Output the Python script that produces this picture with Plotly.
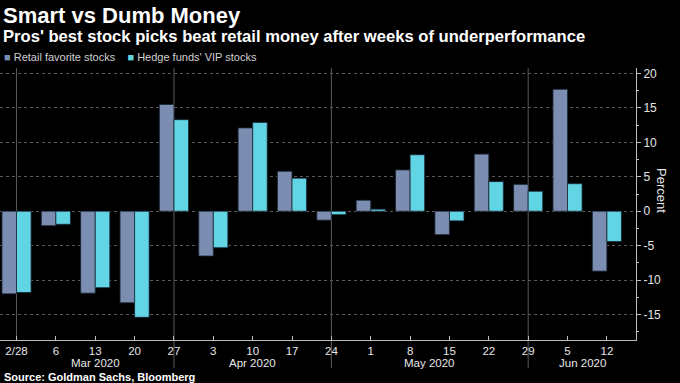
import plotly.graph_objects as go
import pandas as pd

# ---- data ----
weeks = ["2020-02-28", "2020-03-06", "2020-03-13", "2020-03-20", "2020-03-27",
         "2020-04-03", "2020-04-10", "2020-04-17", "2020-04-24", "2020-05-01",
         "2020-05-08", "2020-05-15", "2020-05-22", "2020-05-29", "2020-06-05",
         "2020-06-12"]
tick_labels = ["2/28", "6", "13", "20", "27", "3", "10", "17", "24", "1",
               "8", "15", "22", "29", "5", "12"]
retail = [-12.0, -2.1, -11.9, -13.3, 15.5, -6.5, 12.1, 5.8, -1.3, 1.6,
          6.0, -3.4, 8.3, 3.9, 17.7, -8.7]
hedge = [-11.8, -1.9, -11.1, -15.4, 13.3, -5.3, 12.9, 4.8, -0.5, 0.3,
         8.2, -1.4, 4.3, 2.9, 4.0, -4.4]
y_tick_vals = [-15, -10, -5, 0, 5, 10, 15, 20]
y_tick_labels = ["-15", "-10", "-5", "0", "5", "10", "15", "20"]
series_names = ["Retail favorite stocks", "Hedge funds' VIP stocks"]

title = "Smart vs Dumb Money"
subtitle = "Pros' best stock picks beat retail money after weeks of underperformance"
source = "Source: Goldman Sachs, Bloomberg"

# ---- styling ----
W, H = 680, 383
ML, MR, MT, MB = 0, 44, 68, 43
C_RETAIL = "#7b8db0"
C_HEDGE = "#62d5e5"
FONT = "Liberation Sans, Arial, sans-serif"
AXIS_C = "#bdbdbd"
GRID_C = "#5a5a5a"
XR = [-0.42, 15.74]
YR = [-18.7, 20.8]

dates = pd.to_datetime(pd.Series(weeks))
x = list(range(len(weeks)))

fig = go.Figure()
fig.add_bar(x=x, y=retail, name=series_names[0], marker_color=C_RETAIL,
            marker_line=dict(color="#1a2633", width=0.8), showlegend=False)
fig.add_bar(x=x, y=hedge, name=series_names[1], marker_color=C_HEDGE,
            marker_line=dict(color="#1a2633", width=0.8), showlegend=False)

plot_h = H - MT - MB


def py(pix):
    """pixel row -> paper y"""
    return (H - MB - pix) / plot_h


# month boundaries: last week of each month
months = dates.dt.to_period("M")
bounds = [i for i in range(len(weeks) - 1) if months[i] != months[i + 1]]
shapes = []
for k, b in enumerate(bounds):
    shapes.append(dict(type="line", xref="x", yref="paper", x0=b, x1=b,
                       y0=(py(368) if k > 0 else 0), y1=1,
                       line=dict(color=GRID_C, width=1), layer="below"))

annotations = []
# month labels centred between boundaries
edges = bounds + [XR[1]]
for k in range(len(bounds)):
    idx = bounds[k] + 1
    lbl = dates[idx].strftime("%b %Y")
    xc = (edges[k] + edges[k + 1]) / 2
    annotations.append(dict(text=lbl, x=xc, xref="x", y=py(363), yref="paper",
                            yanchor="middle", xanchor="center", showarrow=False,
                            font=dict(family=FONT, size=11.5, color="#e6e6e6")))

annotations += [
    dict(text="<b>" + title + "</b>", x=0, xref="paper", xanchor="left", xshift=1,
         y=py(15), yref="paper", yanchor="middle", showarrow=False,
         font=dict(family=FONT, size=22, color="#ffffff")),
    dict(text="<b>" + subtitle + "</b>", x=0, xref="paper", xanchor="left", xshift=1,
         y=py(37), yref="paper", yanchor="middle", showarrow=False,
         font=dict(family=FONT, size=16.6, color="#ffffff")),
    dict(text=("<span style='color:%s'>■</span> %s    <span style='color:%s'>■</span> %s"
               % (C_RETAIL, series_names[0], C_HEDGE, series_names[1])),
         x=0, xref="paper", xanchor="left", xshift=2,
         y=py(57), yref="paper", yanchor="middle", showarrow=False,
         font=dict(family=FONT, size=11, color="#d0d0d0")),
    dict(text="<b>" + source + "</b>", x=0, xref="paper", xanchor="left", xshift=2,
         y=py(377), yref="paper", yanchor="middle", showarrow=False,
         font=dict(family=FONT, size=11, color="#ffffff")),
    dict(text="Percent", x=1, xref="paper", xshift=26, xanchor="center",
         y=py(190), yref="paper", yanchor="middle", textangle=90, showarrow=False,
         font=dict(family=FONT, size=13, color="#e6e6e6")),
]

fig.update_layout(
    width=W, height=H, autosize=False,
    margin=dict(l=ML, r=MR, t=MT, b=MB, pad=0),
    paper_bgcolor="#000000", plot_bgcolor="#000000",
    barmode="group", bargap=0.26, bargroupgap=0.0,
    shapes=shapes, annotations=annotations,
    xaxis=dict(range=XR, tickmode="array", tickvals=x, ticktext=tick_labels,
               ticks="inside", ticklen=4, tickcolor=AXIS_C, tickwidth=1,
               showline=True, linecolor=AXIS_C, linewidth=1, mirror=False,
               showgrid=False, zeroline=False,
               tickfont=dict(family=FONT, size=11.5, color="#e6e6e6")),
    yaxis=dict(range=YR, side="right", tickmode="array", tickvals=y_tick_vals,
               ticktext=y_tick_labels, ticks="outside", ticklen=4,
               tickcolor=AXIS_C, showline=True, linecolor=AXIS_C, linewidth=1,
               showgrid=True, gridcolor=GRID_C, griddash="dot", gridwidth=1,
               zeroline=False,
               minor=dict(tick0=0, dtick=2.5, ticks="outside", ticklen=2,
                          tickcolor=AXIS_C, showgrid=False),
               tickfont=dict(family=FONT, size=12, color="#e6e6e6")),
    font=dict(family=FONT, color="#e6e6e6"),
)

fig.write_html(
    "out.html",
    config={"displayModeBar": False},
    post_script="document.body.style.margin='0';document.body.style.background='#000';",
)
